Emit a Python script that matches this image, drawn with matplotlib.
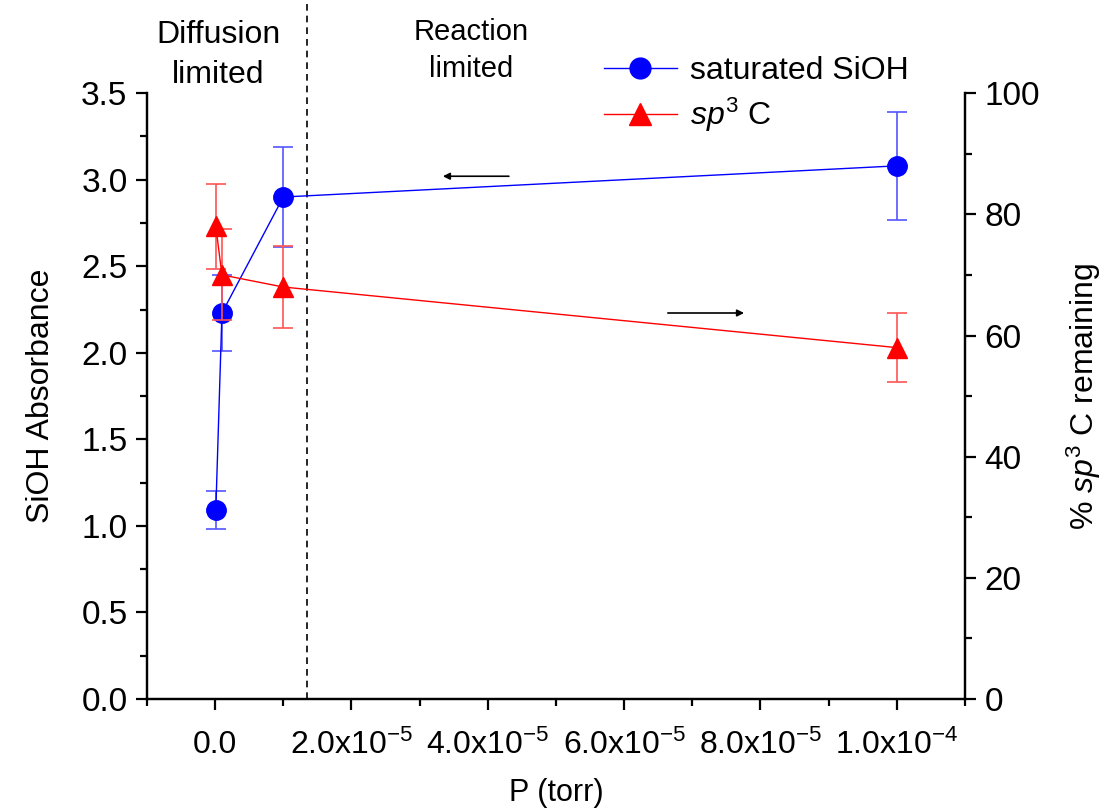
import matplotlib
matplotlib.use("Agg")
import matplotlib.pyplot as plt
from matplotlib.ticker import MultipleLocator, FixedLocator
from matplotlib.lines import Line2D

plt.rcParams['font.family'] = ['Liberation Sans', 'DejaVu Sans']
plt.rcParams['mathtext.fontset'] = 'custom'
plt.rcParams['mathtext.rm'] = 'Liberation Sans'
plt.rcParams['mathtext.it'] = 'Liberation Sans:italic'

# data
pressure = [1e-7, 1e-6, 1e-5, 1e-4]
sioh = [1.09, 2.23, 2.90, 3.08]
sioh_err = [0.11, 0.22, 0.29, 0.31]
sp3 = [78, 70, 68, 58]
sp3_err = [7, 7.5, 6.8, 5.7]

xticks = [0, 2e-5, 4e-5, 6e-5, 8e-5, 1e-4]
xticklabels = ["0.0", "2.0x10$^{-5}$", "4.0x10$^{-5}$", "6.0x10$^{-5}$",
               "8.0x10$^{-5}$", "1.0x10$^{-4}$"]
boundary = 1.35e-5

fig = plt.figure(figsize=(11.05, 8.1), dpi=100)
ax = fig.add_axes([0.1330, 0.137, 0.7403, 0.748])
ax2 = ax.twinx()

blue = "#0000ff"
red = "#ff0000"

ax.errorbar(pressure, sioh, yerr=sioh_err, color=blue, lw=1, marker="o", ms=14,
            ecolor="#5555ff", elinewidth=1.2, capsize=7, capthick=1.2, zorder=3)
ax2.errorbar(pressure, sp3, yerr=sp3_err, color=red, lw=1, marker="^", ms=15,
             ecolor="#ff5555", elinewidth=1.2, capsize=7, capthick=1.2, zorder=3)

ax.set_xlim(-1e-5, 1.1e-4)
ax.set_ylim(0, 3.5)
ax2.set_ylim(0, 100)

ax.xaxis.set_major_locator(FixedLocator(xticks))
ax.set_xticklabels(xticklabels, fontsize=23)
ax.xaxis.set_minor_locator(MultipleLocator(1e-5))
ax.yaxis.set_major_locator(MultipleLocator(0.5))
ax.yaxis.set_minor_locator(MultipleLocator(0.25))
ax2.yaxis.set_major_locator(MultipleLocator(20))
ax2.yaxis.set_minor_locator(MultipleLocator(10))

for a in (ax, ax2):
    a.spines["top"].set_visible(False)
    for s in ("left", "right", "bottom"):
        a.spines[s].set_linewidth(1.6)
    a.tick_params(which="major", direction="out", length=8, width=1.6, labelsize=24)
    a.tick_params(which="minor", direction="out", length=5, width=1.6)
ax.tick_params(axis="x", pad=14, labelsize=23)
ax.tick_params(axis="y", pad=6)
ax2.tick_params(axis="y", pad=6)

ax.set_xlabel("P (torr)", fontsize=22, labelpad=12)
ax.set_ylabel("SiOH Absorbance", fontsize=23, labelpad=18)
ax2.set_ylabel(r"% $\it{sp}^{3}$ C remaining", fontsize=23, labelpad=18, rotation=90)

# dashed boundary runs from the x axis up to the top edge of the figure
ax.plot([boundary, boundary], [0, 4.05], color="black", ls=(0, (4, 3)), lw=1.2,
        clip_on=False)

ax.annotate("", xy=(3.3e-5, 3.02), xytext=(4.35e-5, 3.02),
            arrowprops=dict(arrowstyle="-|>", color="black", lw=1.2,
                            mutation_scale=10))
ax.annotate("", xy=(7.8e-5, 2.23), xytext=(6.6e-5, 2.23),
            arrowprops=dict(arrowstyle="-|>", color="black", lw=1.2,
                            mutation_scale=10))

ax.text(0.05e-5, 3.52, "Diffusion\nlimited", fontsize=23, ha="center",
        va="bottom", linespacing=1.4)
ax.text(3.75e-5, 3.56, "Reaction\nlimited", fontsize=21, ha="center",
        va="bottom", linespacing=1.4)

handles = [Line2D([], [], color=blue, lw=1, marker="o", ms=15),
           Line2D([], [], color=red, lw=1, marker="^", ms=16)]
labels = ["saturated SiOH", r"$\it{sp}^{3}$ C"]
ax2.legend(handles, labels, loc="upper left", bbox_to_anchor=(0.523, 1.109),
           frameon=False, fontsize=23, handlelength=2.3, labelspacing=0.3,
           handletextpad=0.4)

fig.savefig("out.png", dpi=100)
